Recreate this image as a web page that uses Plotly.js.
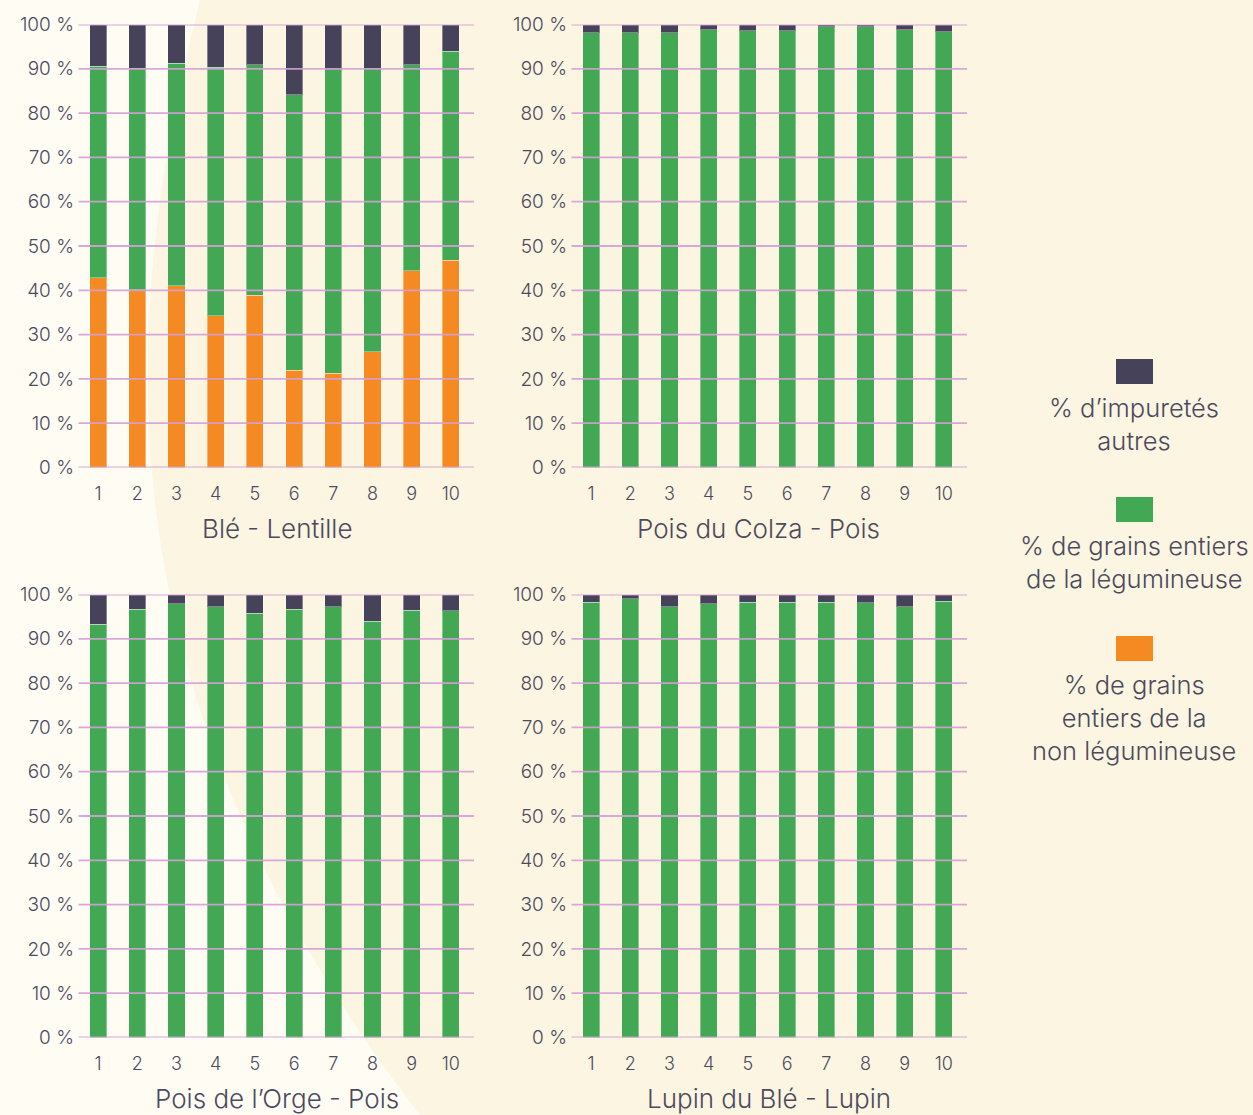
<!DOCTYPE html>
<html><head><meta charset="utf-8">
<script src="https://cdn.plot.ly/plotly-3.0.1.min.js"></script>
<style>html,body{margin:0;padding:0;background:#fbf5e1;overflow:hidden}</style>
</head><body><div id="chart" style="width:1253px;height:1115px"></div>
<script>
// ---------- data ----------
const categories = [1, 2, 3, 4, 5, 6, 7, 8, 9, 10];
const yTickVals = [0, 10, 20, 30, 40, 50, 60, 70, 80, 90, 100];
const yTickText = ['0 %', '10 %', '20 %', '30 %', '40 %', '50 %', '60 %', '70 %', '80 %', '90 %', '100 %'];

const panelTitles = ['Blé - Lentille', 'Pois du Colza - Pois', 'Pois de l’Orge - Pois', 'Lupin du Blé - Lupin'];
const seriesNames = ['% de grains entiers de la non légumineuse', '% de grains entiers de la légumineuse', '% d’impuretés autres'];

// Blé - Lentille
const bleNonLeg   = [42.8, 40.1, 41.0, 34.3, 38.9, 22.0, 21.3, 26.1, 44.4, 46.8];
const bleLeg      = [47.8, 50.0, 50.3, 56.0, 52.0, 62.1, 68.5, 63.9, 46.5, 47.2];
const bleImp      = [9.4, 9.9, 8.7, 9.7, 9.1, 15.9, 10.2, 10.0, 9.1, 6.0];
// Pois du Colza - Pois
const colzaNonLeg = [0, 0, 0, 0, 0, 0, 0, 0, 0, 0];
const colzaLeg    = [98.1, 98.1, 98.1, 98.8, 98.6, 98.6, 99.5, 99.5, 98.8, 98.4];
const colzaImp    = [1.9, 1.9, 1.9, 1.2, 1.4, 1.4, 0.5, 0.5, 1.2, 1.6];
// Pois de l'Orge - Pois
const orgeNonLeg  = [0, 0, 0, 0, 0, 0, 0, 0, 0, 0];
const orgeLeg     = [93.3, 96.7, 97.9, 97.2, 95.8, 96.7, 97.2, 94.0, 96.5, 96.3];
const orgeImp     = [6.7, 3.3, 2.1, 2.8, 4.2, 3.3, 2.8, 6.0, 3.5, 3.7];
// Lupin du Blé - Lupin
const lupinNonLeg = [0, 0, 0, 0, 0, 0, 0, 0, 0, 0];
const lupinLeg    = [98.3, 99.0, 97.2, 97.9, 98.3, 98.3, 98.3, 98.1, 97.2, 98.5];
const lupinImp    = [1.7, 1.0, 2.8, 2.1, 1.7, 1.7, 1.7, 1.9, 2.8, 1.5];

// ---------- style ----------
const W = 1253, H = 1115;
const px = p => p / W;
const py = p => 1 - p / H;
const colors = ['#f58a22', '#43a853', '#45425a'];
const textColor = '#4c4a5e';
const gridColor = '#d5a0d7';
const FONT = 'Inter, Roboto, "Liberation Sans", sans-serif';

const panels = [
  {data: [bleNonLeg, bleLeg, bleImp], sfx: ''},
  {data: [colzaNonLeg, colzaLeg, colzaImp], sfx: '2'},
  {data: [orgeNonLeg, orgeLeg, orgeImp], sfx: '3'},
  {data: [lupinNonLeg, lupinLeg, lupinImp], sfx: '4'}
];

const traces = [];
panels.forEach(p => {
  p.data.forEach((vals, k) => {
    traces.push({
      type: 'bar', x: categories, y: vals, name: seriesNames[k],
      xaxis: 'x' + p.sfx, yaxis: 'y' + p.sfx,
      width: 0.435, showlegend: false,
      marker: {color: colors[k], line: {color: 'rgba(255,255,255,0.35)', width: 1}},
      hovertemplate: '%{y:.1f} %<extra></extra>'
    });
  });
});

const xDomL = [px(84), px(474)], xDomR = [px(577), px(967)];
const yDomT = [py(467.5), py(24.5)], yDomB = [py(1037.5), py(594.5)];

function xAxis(domain, anchor) {
  return {domain, anchor, range: [0.64, 10.59], tickvals: categories, ticktext: categories.map(String),
    showgrid: false, zeroline: false, showline: false, ticks: '', ticklabelstandoff: 13,
    tickfont: {family: FONT, size: 18, color: textColor, weight: 300}, fixedrange: true};
}
function yAxis(domain, anchor) {
  return {domain, anchor, range: [0, 100], tickvals: yTickVals, ticktext: yTickText,
    showgrid: false, zeroline: false, showline: false, ticks: '', ticklabelstandoff: 9,
    tickfont: {family: FONT, size: 19, color: textColor, weight: 300}, fixedrange: true};
}

const shapes = [];
// soft light background band
shapes.push({type: 'path', xref: 'paper', yref: 'paper', layer: 'below', line: {width: 0},
  fillcolor: '#fefcf3',
  path: `M 0 1 L ${px(200)} 1 C ${px(140)} ${py(250)} ${px(60)} ${py(650)} ${px(420)} 0 L 0 0 Z`});

// gridlines drawn over bars (as in the reference)
panels.forEach(p => {
  yTickVals.forEach(v => {
    shapes.push({type: 'line', xref: 'x' + p.sfx + ' domain', yref: 'y' + p.sfx, layer: 'above',
      x0: -0.014, x1: 1, y0: v, y1: v, line: {color: gridColor, width: 1.8}, opacity: 0.9});
  });
});

// legend swatches
const legendRows = [
  {color: colors[2], y0: 359, text: '% d’impuretés<br>autres', ty: 390},
  {color: colors[1], y0: 497, text: '% de grains entiers<br>de la légumineuse', ty: 528},
  {color: colors[0], y0: 636, text: '% de grains<br>entiers de la<br>non légumineuse', ty: 667}
];
const annotations = [];
legendRows.forEach(r => {
  shapes.push({type: 'rect', xref: 'paper', yref: 'paper', x0: px(1116), x1: px(1153),
    y0: py(r.y0 + 25), y1: py(r.y0), fillcolor: r.color, line: {width: 0}});
  annotations.push({xref: 'paper', yref: 'paper', x: px(1134), y: py(r.ty), xanchor: 'center', yanchor: 'top',
    text: r.text, showarrow: false, align: 'center',
    font: {family: FONT, size: 25.5, color: textColor, weight: 300}});
});

// panel titles
const titlePos = [[277, 528], [758, 528], [277, 1098], [769, 1098]];
panelTitles.forEach((t, i) => {
  annotations.push({xref: 'paper', yref: 'paper', x: px(titlePos[i][0]), y: py(titlePos[i][1]),
    xanchor: 'center', yanchor: 'middle', text: t, showarrow: false,
    font: {family: FONT, size: 26, color: textColor, weight: 300}});
});

const layout = {
  width: W, height: H, margin: {l: 0, r: 0, t: 0, b: 0},
  paper_bgcolor: '#fbf5e1', plot_bgcolor: 'rgba(0,0,0,0)',
  barmode: 'stack', showlegend: false,
  xaxis: xAxis(xDomL, 'y'), yaxis: yAxis(yDomT, 'x'),
  xaxis2: xAxis(xDomR, 'y2'), yaxis2: yAxis(yDomT, 'x2'),
  xaxis3: xAxis(xDomL, 'y3'), yaxis3: yAxis(yDomB, 'x3'),
  xaxis4: xAxis(xDomR, 'y4'), yaxis4: yAxis(yDomB, 'x4'),
  shapes, annotations
};

Plotly.newPlot('chart', traces, layout, {displayModeBar: false});
</script>
</body></html>
